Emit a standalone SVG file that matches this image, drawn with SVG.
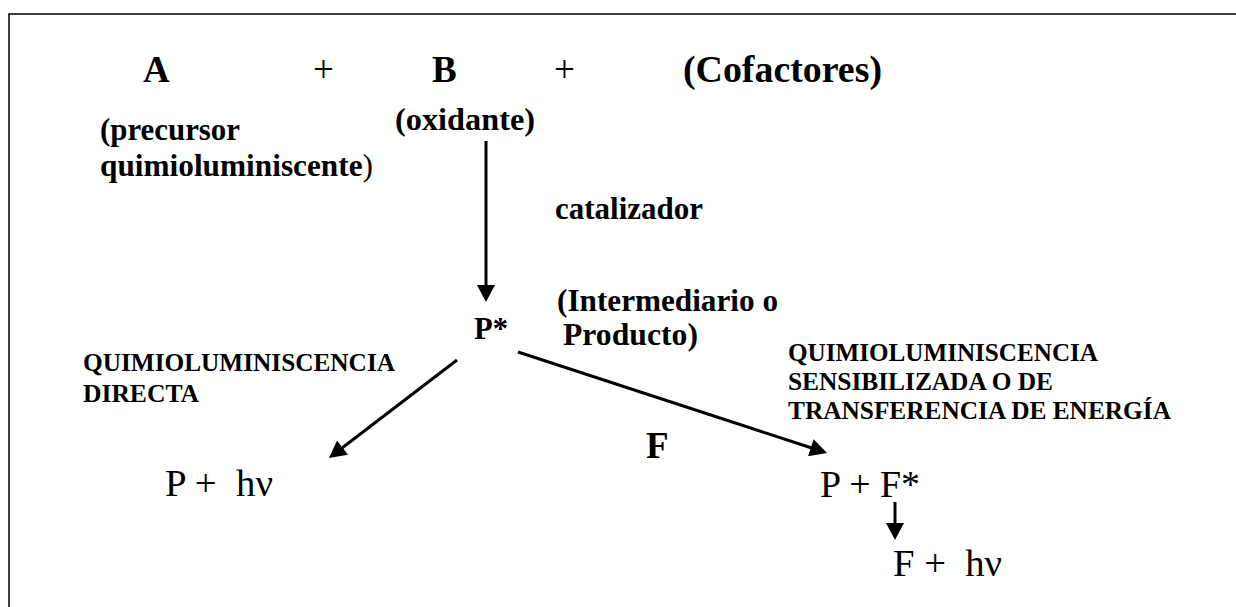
<svg xmlns="http://www.w3.org/2000/svg" width="1236" height="607" viewBox="0 0 1236 607">
<style>
  text { font-family: "Liberation Serif", "Times New Roman", serif; fill: #000; }
  .b { font-weight: bold; }
  .big { font-size: 37px; }
  .sub { font-size: 31px; }
  .caps { font-size: 25px; }
  .eq { font-size: 37px; }
  .conn line { stroke: #000; stroke-width: 3; }
  .frame { stroke: #000; stroke-width: 1.5; fill: none; }
</style>
<defs>
  <marker id="ah" markerUnits="userSpaceOnUse" markerWidth="18" markerHeight="18" viewBox="0 0 17 18" refX="1" refY="9" orient="auto">
    <path d="M0,0 L17,9 L0,18 z" fill="#000"/>
  </marker>
</defs>
<rect width="1236" height="607" fill="#fff"/>
<path class="frame" d="M9,607 L9,14 L1236,14"/>

<g id="reactants">
  <text class="b big" x="143" y="82">A</text>
  <text class="big" x="313" y="82">+</text>
  <text class="b big" x="432" y="82">B</text>
  <text class="big" x="554" y="82">+</text>
  <text class="b big" x="683" y="82" textLength="199" lengthAdjust="spacingAndGlyphs">(Cofactores)</text>
</g>
<g id="precursor">
  <text class="b sub" x="100" y="140" textLength="140" lengthAdjust="spacingAndGlyphs">(precursor</text>
  <text class="b sub" x="100" y="176" textLength="273" lengthAdjust="spacingAndGlyphs">quimioluminiscente<tspan font-weight="normal">)</tspan></text>
</g>
<g id="oxidante">
  <text class="b sub" x="395" y="130" textLength="140" lengthAdjust="spacingAndGlyphs">(oxidante)</text>
</g>
<g id="catalizador">
  <text class="b sub" x="555" y="219" textLength="148" lengthAdjust="spacingAndGlyphs">catalizador</text>
</g>
<g id="pstar">
  <text class="b sub" x="474" y="339" textLength="34" lengthAdjust="spacingAndGlyphs">P*</text>
</g>
<g id="intermediario">
  <text class="b sub" x="557" y="311" textLength="221" lengthAdjust="spacingAndGlyphs">(Intermediario o</text>
  <text class="b sub" x="563" y="345" textLength="135" lengthAdjust="spacingAndGlyphs">Producto)</text>
</g>
<g id="directa">
  <text class="b caps" x="83" y="371" textLength="312" lengthAdjust="spacingAndGlyphs">QUIMIOLUMINISCENCIA</text>
  <text class="b caps" x="83" y="402" textLength="116" lengthAdjust="spacingAndGlyphs">DIRECTA</text>
</g>
<g id="sensibilizada">
  <text class="b caps" x="788" y="361" textLength="310" lengthAdjust="spacingAndGlyphs">QUIMIOLUMINISCENCIA</text>
  <text class="b caps" x="788" y="390" textLength="265" lengthAdjust="spacingAndGlyphs">SENSIBILIZADA O DE</text>
  <text class="b caps" x="788" y="419" textLength="383" lengthAdjust="spacingAndGlyphs">TRANSFERENCIA DE ENERGÍA</text>
</g>
<g id="f-label">
  <text class="b eq" x="646" y="458">F</text>
</g>
<g id="p-hv">
  <text class="eq" x="165" y="496" xml:space="preserve" textLength="108" lengthAdjust="spacingAndGlyphs">P +  hν</text>
</g>
<g id="p-fstar">
  <text class="eq" x="820" y="497" textLength="100" lengthAdjust="spacingAndGlyphs">P + F*</text>
</g>
<g id="f-hv">
  <text class="eq" x="893" y="576" xml:space="preserve" textLength="109" lengthAdjust="spacingAndGlyphs">F +  hν</text>
</g>

<g id="connectors" class="conn">
  <line x1="486" y1="141" x2="486" y2="286" marker-end="url(#ah)"/>
  <line x1="457" y1="360" x2="341.7" y2="448.3" marker-end="url(#ah)"/>
  <line x1="518" y1="352" x2="811.8" y2="448" marker-end="url(#ah)"/>
  <line x1="895" y1="502" x2="895" y2="524" marker-end="url(#ah)"/>
</g>
</svg>
